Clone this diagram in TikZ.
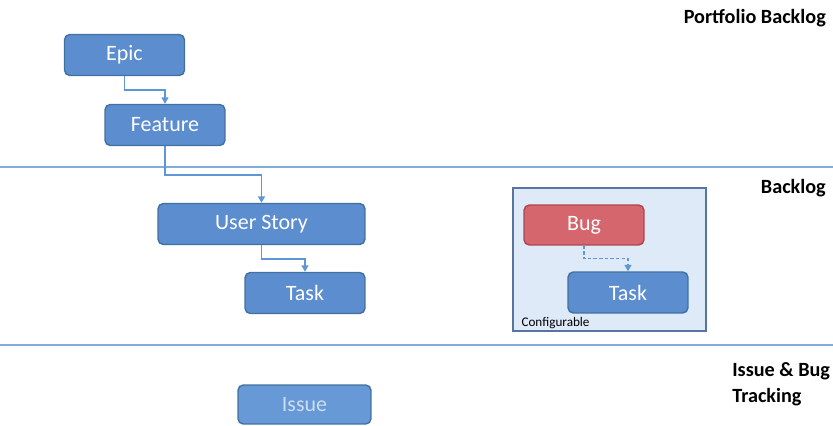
\documentclass[tikz,border=0pt]{standalone}
\usepackage{fontspec}
\setmainfont{Carlito}
\usepackage{tikz}
\usetikzlibrary{positioning,arrows.meta,calc}

\definecolor{boxblue}{RGB}{91,141,207}
\definecolor{boxedge}{RGB}{65,113,160}
\definecolor{issueblue}{RGB}{102,153,214}
\definecolor{issuetext}{RGB}{205,220,240}
\definecolor{bugred}{RGB}{214,102,110}
\definecolor{bugedge}{RGB}{172,70,80}
\definecolor{cfgfill}{RGB}{222,234,247}
\definecolor{cfgedge}{RGB}{84,118,160}
\definecolor{linkblue}{RGB}{95,150,215}
\definecolor{sepblue}{RGB}{130,172,222}

\begin{document}
\begin{tikzpicture}[
  x=0.02cm, y=-0.02cm,
  item/.style={
    rectangle,
    rounded corners=3pt,
    draw=boxedge,
    fill=boxblue,
    line width=0.8pt,
    text=white,
    font=\fontsize{12.5}{14}\selectfont,
    minimum width=2.4cm,
    minimum height=0.82cm,
    inner sep=0pt
  },
  bugcol/.style={fill=bugred, draw=bugedge},
  issuecol/.style={fill=issueblue, draw=boxedge, text=issuetext},
  link/.style={-{Triangle[length=1.3mm,width=1.4mm]}, line width=0.8pt, linkblue},
  sep/.style={line width=1pt, sepblue},
  tier/.style={font=\fontsize{11.5}{14}\selectfont\bfseries, align=left}
]
\useasboundingbox (0,0) rectangle (833,426);

% --- Portfolio backlog ---
\node[tier, anchor=east] (tportfolio) at (832,18) {Portfolio Backlog};
\node[item] (epic) at (124.5,55) {Epic};
\node[item] (feature) at (165,125) {Feature};

\draw[sep] (0,167) -- (833,167);

% --- Backlog ---
\node[tier, anchor=east] (tbacklog) at (832,188) {Backlog};
\node[item, minimum width=4.14cm] (story) at (261.5,224) {User Story};
\node[item] (task) at (305,293) {Task};

% configurable group
\node[rectangle, draw=cfgedge, fill=cfgfill, line width=0.7pt,
      minimum width=3.86cm, minimum height=2.86cm] (cfg) at (609.5,259.5) {};
\node[anchor=south west, inner sep=1pt, font=\fontsize{7.5}{9}\selectfont]
  (cfglabel) at ($(cfg.south west)+(7,-1)$) {Configurable};
\node[item, bugcol, minimum height=0.8cm] (bug) at (584,225) {Bug};
\node[item] (bugtask) at (628,292.5) {Task};

\draw[sep] (0,345) -- (833,345);

% --- Issue & bug tracking ---
\node[tier, anchor=north west, inner sep=0pt] (tissue) at (732,362)
  {Issue \& Bug\\[1pt]Tracking};
\node[item, issuecol, minimum width=2.66cm, minimum height=0.78cm] (issue) at (304.5,404.5) {Issue};

% --- Links ---
\draw[link] (epic.south) -- ++(0,14) -| (feature.north);
\draw[link] (feature.south) -- ++(0,29) -| (story.north);
\draw[link] (story.south) -- ++(0,14) -| (task.north);
\draw[link, dashed, dash pattern=on 2pt off 1.2pt] (bug.south) -- ++(0,13) -| (bugtask.north);

\end{tikzpicture}
\end{document}
